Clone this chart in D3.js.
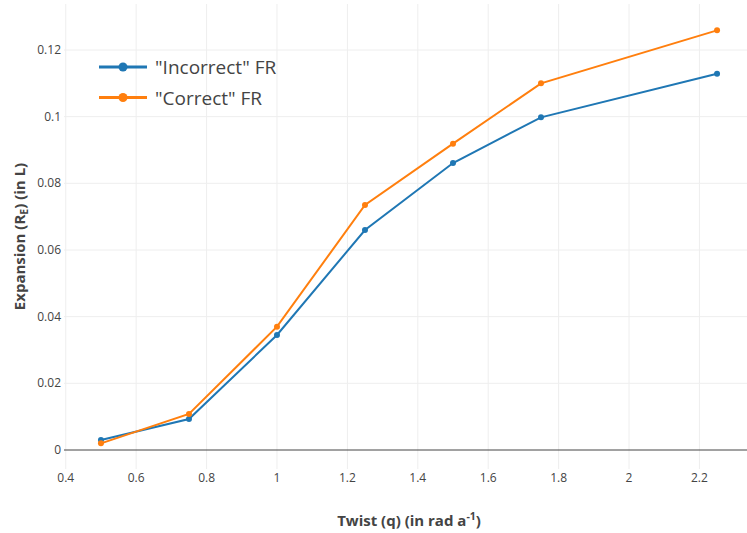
<!DOCTYPE html>
<html>
<head>
<meta charset="utf-8">
<script src="https://cdn.jsdelivr.net/npm/d3@7"></script>
<style>
  body { margin: 0; background: #fff; }
  svg { font-family: "Open Sans", sans-serif; }
</style>
</head>
<body>
<script>
// data
const twist = [0.5, 0.75, 1.0, 1.25, 1.5, 1.75, 2.25];
const incorrectFR = [0.003, 0.0093, 0.0345, 0.066, 0.0861, 0.0998, 0.1129];
const correctFR = [0.002, 0.0108, 0.037, 0.0735, 0.0919, 0.110, 0.1259];
const xTicks = [0.4, 0.6, 0.8, 1, 1.2, 1.4, 1.6, 1.8, 2, 2.2];
const yTicks = [0, 0.02, 0.04, 0.06, 0.08, 0.1, 0.12];
const seriesNames = ['"Incorrect" FR', '"Correct" FR'];
const colors = ["#1f77b4", "#ff7f0e"];

const width = 747, height = 533;
const plotL = 64, plotR = 754, plotT = 4, plotB = 469;

const svg = d3.select("body").append("svg")
    .attr("width", width)
    .attr("height", height);

const x = d3.scaleLinear().domain([0.395, 2.355]).range([plotL, plotR]);
const y = d3.scaleLinear().domain([-0.0057, 0.1338]).range([plotB, plotT]);

// grid
svg.append("g").selectAll("line")
    .data(xTicks)
    .join("line")
    .attr("x1", d => x(d)).attr("x2", d => x(d))
    .attr("y1", plotT).attr("y2", plotB)
    .attr("stroke", "#eee").attr("stroke-width", 1);

svg.append("g").selectAll("line")
    .data(yTicks.filter(d => d !== 0))
    .join("line")
    .attr("x1", plotL).attr("x2", plotR)
    .attr("y1", d => y(d)).attr("y2", d => y(d))
    .attr("stroke", "#eee").attr("stroke-width", 1);

// zero line
svg.append("line")
    .attr("x1", plotL).attr("x2", plotR)
    .attr("y1", y(0)).attr("y2", y(0))
    .attr("stroke", "#444").attr("stroke-width", 1);

// tick labels
svg.append("g").selectAll("text")
    .data(xTicks)
    .join("text")
    .attr("x", d => x(d))
    .attr("y", 482)
    .attr("text-anchor", "middle")
    .attr("font-size", 12)
    .attr("fill", "#444")
    .text(d => d3.format("")(d));

svg.append("g").selectAll("text")
    .data(yTicks)
    .join("text")
    .attr("x", 61)
    .attr("y", d => y(d) + 4)
    .attr("text-anchor", "end")
    .attr("font-size", 12)
    .attr("fill", "#444")
    .text(d => d3.format("")(d));

// lines + markers
const line = d3.line()
    .x((d, i) => x(twist[i]))
    .y(d => y(d));

[incorrectFR, correctFR].forEach((vals, k) => {
    svg.append("path")
        .datum(vals)
        .attr("d", line)
        .attr("fill", "none")
        .attr("stroke", colors[k])
        .attr("stroke-width", 2);
    svg.append("g").selectAll("circle")
        .data(vals)
        .join("circle")
        .attr("cx", (d, i) => x(twist[i]))
        .attr("cy", d => y(d))
        .attr("r", 3)
        .attr("fill", colors[k]);
});

// legend
const legend = svg.append("g");
seriesNames.forEach((name, k) => {
    const ly = 67 + k * 30.5;
    legend.append("line")
        .attr("x1", 99).attr("x2", 147)
        .attr("y1", ly).attr("y2", ly)
        .attr("stroke", colors[k]).attr("stroke-width", 3);
    legend.append("circle")
        .attr("cx", 123).attr("cy", ly).attr("r", 4.5)
        .attr("fill", colors[k]);
    legend.append("text")
        .attr("x", 155).attr("y", ly + 7)
        .attr("font-size", 19)
        .attr("fill", "#444")
        .text(name);
});

// axis titles
const xt = svg.append("text")
    .attr("x", 409).attr("y", 526)
    .attr("text-anchor", "middle")
    .attr("font-size", 15)
    .attr("font-weight", "bold")
    .attr("fill", "#444");
xt.append("tspan").text("Twist (q) (in rad a");
xt.append("tspan").attr("font-size", 10.5).attr("dy", -6).text("-1");
xt.append("tspan").attr("dy", 6).text(")");

const yt = svg.append("text")
    .attr("transform", "translate(25,236.5) rotate(-90)")
    .attr("text-anchor", "middle")
    .attr("font-size", 15)
    .attr("font-weight", "bold")
    .attr("fill", "#444");
yt.append("tspan").text("Expansion (R");
yt.append("tspan").attr("font-size", 10.5).attr("dy", 3).text("E");
yt.append("tspan").attr("dy", -3).text(") (in L)");
</script>
</body>
</html>
